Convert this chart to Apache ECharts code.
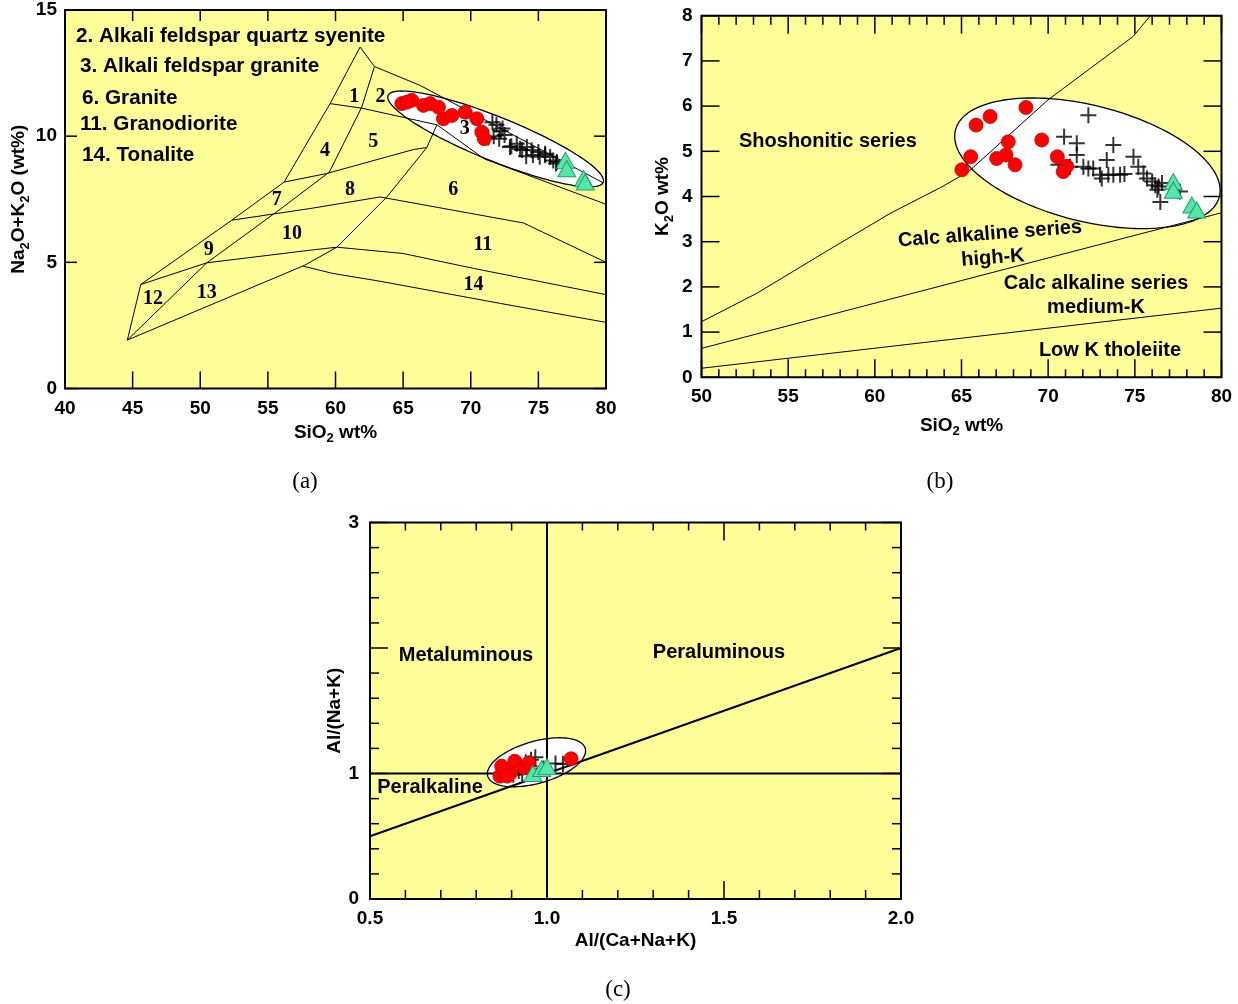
<!DOCTYPE html>
<html><head><meta charset="utf-8">
<script src="https://cdn.jsdelivr.net/npm/echarts@6/dist/echarts.min.js"></script>
<style>html,body{margin:0;padding:0;background:#fff}#c{width:1238px;height:1004px}</style>
</head><body><div id="c"></div><script>
// ---------- Panel (a): TAS plutonic ----------
const tasCircles = [[64.9,11.29],[65.64,11.42],[66.5,11.22],[67.0,11.29],[67.61,11.15],[67.98,10.69],[68.6,10.82],[69.59,10.95],[70.45,10.69],[70.82,10.16],[71.0,9.9],[65.3,11.35]];
const tasCrosses = [[71.6,10.55],[71.9,10.45],[72.35,10.3],[72.2,10.2],[71.7,10.0],[72.1,9.9],[71.3,9.95],[72.5,10.05],[72.9,9.57],[73.0,9.6],[73.4,9.7],[73.65,9.5],[73.8,9.45],[74.15,9.57],[74.5,9.44],[74.1,9.2],[74.6,9.25],[75.0,9.37],[75.1,9.18],[75.5,9.24],[75.5,9.3],[75.87,9.17],[76.1,9.04],[76.37,8.98],[76.3,8.92]];
const tasTriangles = [[77.0,9.04],[77.1,8.71],[78.34,8.32],[78.46,8.18]];
const tasEllipse = [63.89,11.61,79.79,8.17];
const tasLineOuter = [[44.61,1.92],[45.6,4.12],[52.33,6.67],[56.2,8.18],[59.6,11.29],[61.82,13.53],[62.88,12.76]];
const tasLineInner = [[62.88,12.76],[61.94,11.15],[59.55,8.58],[55.9,7.1],[50.48,4.98],[44.61,1.92]];
const tasLineTop = [[62.88,12.76],[66.26,12.01],[79.8,8.15]];
const tasLine15 = [[59.6,11.29],[61.94,11.11],[67.5,10.45],[71.0,9.1],[80,7.3]];
const tasLine47 = [[56.2,8.18],[59.35,8.52],[65.76,9.47],[66.75,9.55]];
const tasLine710 = [[52.33,6.67],[58.1,7.13],[63.3,7.59],[73.9,6.56],[80,5.0]];
const tasLine913 = [[45.6,4.12],[50.48,4.98],[58.1,5.48],[60.1,5.6],[65.0,5.35],[70.2,4.76],[80,3.72]];
const tasLine14 = [[57.6,4.85],[59.8,4.56],[63.3,4.25],[72.2,3.37],[80,2.62]];
const tasLineLower = [[44.61,1.92],[57.7,4.88],[60.1,5.6],[63.8,7.59],[66.75,9.55],[67.5,10.45]];
const tasFieldLabels = [['1',61.38,11.57],['2',63.33,11.56],['3',69.56,10.3],['4',59.23,9.42],['5',62.8,9.78],['6',68.7,7.86],['7',55.65,7.46],['8',61.08,7.86],['9',50.62,5.48],['10',56.79,6.14],['11',70.9,5.68],['12',46.5,3.57],['13',50.48,3.79],['14',70.2,4.1]];
const tasLegend = ['2. Alkali feldspar quartz syenite','3. Alkali feldspar granite','6. Granite','11. Granodiorite','14. Tonalite'];
const tasXTicks = [40,80,5];
const tasYTicks = [0,15,5];

// ---------- Panel (b): K2O vs SiO2 ----------
const kCircles = [[65.02,4.59],[65.53,4.88],[65.84,5.58],[66.65,5.77],[68.72,5.97],[67.7,5.21],[67.03,4.84],[67.57,4.92],[68.09,4.70],[69.63,5.25],[70.53,4.88],[71.07,4.67],[70.87,4.55]];
const kCrosses = [[72.32,5.80],[70.92,5.32],[71.65,5.18],[73.76,5.14],[71.65,4.92],[73.38,4.81],[74.92,4.88],[75.2,4.66],[70.59,4.70],[71.26,4.66],[72.03,4.66],[72.32,4.62],[72.6,4.62],[72.99,4.48],[73.09,4.40],[73.47,4.48],[73.76,4.48],[74.15,4.48],[74.4,4.5],[75.5,4.51],[75.7,4.40],[76.0,4.33],[76.18,4.25],[76.37,4.22],[76.57,4.30],[77.6,4.11],[76.47,3.88],[76.3,4.15]];
const kTriangles = [[77.22,4.33],[77.22,4.14],[78.29,3.81],[78.57,3.70]];
const kEllipse = [64.65,5.47,79.88,4.0];
const kShoshLine = [[50,1.23],[53.2,1.86],[57.0,2.74],[60.9,3.63],[63.8,4.2],[65.4,4.55],[70.0,6.14],[74.9,7.54],[75.9,8.0]];
const kHighMedLine = [[50,0.64],[80,3.64]];
const kMedLowLine = [[50,0.2],[80,1.53]];
const kXTicks = [50,80,5];
const kYTicks = [0,8,1];

// ---------- Panel (c): A/NK vs A/CNK ----------
const asiCircles = [[0.867,0.979],[0.872,1.059],[0.909,1.098],[0.898,1.005],[0.936,1.045],[0.949,1.085],[1.068,1.117],[0.888,0.979]];
const asiCrosses = [[0.967,1.13],[1.024,1.08],[1.045,1.075],[0.955,1.11],[0.94,1.09],[0.92,1.02],[0.905,0.99],[0.93,1.0],[0.95,1.06],[0.99,1.04]];
const asiTriangles = [[0.96,1.0],[0.985,1.04],[1.0,1.055]];
const asiEllipse = [0.8326,0.979,1.108,1.20];
const asiVertical = [[1,0],[1,3]];
const asiHorizontal = [[0.5,1],[2,1]];
const asiDiagonal = [[0.5,0.5],[2,2]];
const asiXTicks = [0.5,2.0,0.5];
const asiYTicks = [0,3,1];

// ---------- styles ----------
const SANS = '"Liberation Sans", Arial, Helvetica, sans-serif';
const SERIF = '"Liberation Serif", "Times New Roman", serif';
const YELLOW = '#ffff99';
function nameStyle() {
  return {
    fontFamily: SANS, fontWeight: 'bold', fontSize: 19, color: '#000',
    rich: {
      t: {fontFamily: SANS, fontWeight: 'bold', fontSize: 19, lineHeight: 20, color: '#000'},
      s: {fontFamily: SANS, fontWeight: 'bold', fontSize: 13, lineHeight: 13, padding: [13, 0, 0, 0], color: '#000'}
    }
  };
}

function labelAxis(gi, t, pos, o) {
  const ax = {gridIndex: gi, type: 'value', min: t[0], max: t[1], interval: t[2], position: pos,
    splitLine: {show: false}, axisLine: {show: false, onZero: false}, axisTick: {show: false},
    axisLabel: {show: true, margin: o.margin, fontFamily: SANS, fontWeight: 'bold', fontSize: 19, color: '#000'},
    name: o.name, nameLocation: 'middle', nameGap: o.gap, nameTextStyle: nameStyle()};
  if (o.fmt) ax.axisLabel.formatter = o.fmt;
  if (pos === 'left') ax.nameRotate = 90;
  return ax;
}

// inward tick marks on all four sides, placed through the axes' own scales (own canvas layer on top)
function tickSeries(ai, xt, yt, s) {
  return {type: 'custom', xAxisIndex: ai, yAxisIndex: ai, zlevel: 1, z: 100, silent: true, clip: false,
    data: [[xt[0], yt[0]]],
    renderItem: function (params, api) {
      const lo = api.coord([xt[0], yt[0]]), hi = api.coord([xt[1], yt[1]]);
      const left = lo[0], bottom = lo[1], right = hi[0], top = hi[1];
      const kids = [];
      const seg = (a, b, c, d) => kids.push({type: 'line', z2: 100, shape: {x1: a, y1: b, x2: c, y2: d},
        style: {stroke: '#000', lineWidth: 1.5}});
      const nx = Math.round((xt[1] - xt[0]) / xt[2]);
      for (let k = 0; k <= nx; k++) {
        const v = xt[0] + k * xt[2];
        const p = api.coord([v, yt[0]])[0];
        seg(p, bottom, p, bottom - s.xb);
        seg(p, top, p, top + s.xt);
        if (s.xs && k < nx) {
          for (let j = 1; j < s.xs; j++) {
            const q = api.coord([v + j * xt[2] / s.xs, yt[0]])[0];
            seg(q, bottom, q, bottom - s.xbm);
            seg(q, top, q, top + s.xtm);
          }
        }
      }
      const ny = Math.round((yt[1] - yt[0]) / yt[2]);
      for (let k = 0; k <= ny; k++) {
        const v = yt[0] + k * yt[2];
        const p = api.coord([xt[0], v])[1];
        seg(left, p, left + s.yl, p);
        seg(right, p, right - s.yr, p);
        if (s.ys && k < ny) {
          for (let j = 1; j < s.ys; j++) {
            const q = api.coord([xt[0], v + j * yt[2] / s.ys])[1];
            seg(left, q, left + s.ylm, q);
            seg(right, q, right - s.yrm, q);
          }
        }
      }
      return {type: 'group', children: kids};
    }};
}

function ellipseSeries(ai, ends, bPx) {
  return {type: 'custom', xAxisIndex: ai, yAxisIndex: ai, z: 1, silent: true,
    data: [ends],
    renderItem: function (params, api) {
      const p1 = api.coord([api.value(0), api.value(1)]);
      const p2 = api.coord([api.value(2), api.value(3)]);
      const cx = (p1[0] + p2[0]) / 2, cy = (p1[1] + p2[1]) / 2;
      const dx = p2[0] - p1[0], dy = p2[1] - p1[1];
      const a = Math.hypot(dx, dy) / 2, ux = dx / (2 * a), uy = dy / (2 * a);
      const pts = [];
      for (let i = 0; i < 144; i++) {
        const th = i / 144 * 2 * Math.PI, c = Math.cos(th) * a, s = Math.sin(th) * bPx;
        pts.push([cx + c * ux - s * uy, cy + c * uy + s * ux]);
      }
      return {type: 'polygon', shape: {points: pts}, style: {fill: '#fff', stroke: '#000', lineWidth: 1.3}};
    }};
}
function lineSeries(ai, pts, w) {
  return {type: 'line', xAxisIndex: ai, yAxisIndex: ai, z: 2, silent: true, symbol: 'none',
    data: pts, lineStyle: {color: '#000', width: w}, animation: false};
}
const CROSS = 'path://M10,0 L10,20 M0,10 L20,10';
function pointSeries(ai, crosses, circles, triangles) {
  return [
    {type: 'scatter', xAxisIndex: ai, yAxisIndex: ai, z: 3, symbol: CROSS, symbolSize: 16, data: crosses,
      itemStyle: {color: 'rgba(0,0,0,0)', borderColor: '#000', borderWidth: 2}},
    {type: 'scatter', xAxisIndex: ai, yAxisIndex: ai, z: 4, symbol: 'circle', symbolSize: 14, data: circles,
      itemStyle: {color: '#ff0000', borderColor: '#c00000', borderWidth: 0.8, opacity: 1}},
    {type: 'scatter', xAxisIndex: ai, yAxisIndex: ai, z: 5, symbol: 'triangle', symbolSize: [18, 16], data: triangles,
      itemStyle: {color: '#55e6a8', borderColor: '#1f9e6a', borderWidth: 1, opacity: 1}}
  ];
}

const series = [];
series.push(ellipseSeries(0, tasEllipse, 22));
[tasLineOuter, tasLineInner, tasLineTop, tasLine15, tasLine47, tasLine710, tasLine913, tasLine14, tasLineLower]
  .forEach(l => series.push(lineSeries(0, l, 1)));
series.push({type: 'scatter', xAxisIndex: 0, yAxisIndex: 0, z: 2, silent: true, symbolSize: 1,
  itemStyle: {color: 'rgba(0,0,0,0)'},
  data: tasFieldLabels.map(d => ({name: d[0], value: [d[1], d[2]]})),
  label: {show: true, position: 'inside', formatter: p => p.name, fontFamily: SERIF, fontWeight: 'bold', fontSize: 20,
    color: '#000', textBorderWidth: 0, textBorderColor: 'transparent', opacity: 1}});
series.push(...pointSeries(0, tasCrosses, tasCircles, tasTriangles));
series.push(tickSeries(0, tasXTicks, tasYTicks, {xb: 17, xt: 11, yl: 12, yr: 12}));

series.push(ellipseSeries(1, kEllipse, 58));
[kShoshLine, kHighMedLine, kMedLowLine].forEach(l => series.push(lineSeries(1, l, 1)));
series.push(...pointSeries(1, kCrosses, kCircles, kTriangles));
series.push(tickSeries(1, kXTicks, kYTicks, {xb: 18, xt: 18, xs: 5, xbm: 8, xtm: 9, yl: 18, yr: 18}));

series.push(ellipseSeries(2, asiEllipse, 21));
[asiVertical, asiHorizontal, asiDiagonal].forEach(l => series.push(lineSeries(2, l, 2)));
series.push(...pointSeries(2, asiCrosses, asiCircles, asiTriangles));
series.push(tickSeries(2, asiXTicks, asiYTicks, {xb: 18, xt: 18, xs: 5, xbm: 9, xtm: 8, yl: 18, yr: 18, ys: 5, ylm: 9, yrm: 9}));

function txt(x, y, s, o) {
  return Object.assign({type: 'text', x: x, y: y, z: 50, silent: true,
    style: Object.assign({text: s, fontFamily: SANS, fontWeight: 'bold', fontSize: 20, fill: '#000',
      textAlign: 'center', textVerticalAlign: 'middle'}, o && o.style || {})}, o && o.el || {});
}
const legendPos = [[76,36],[80,66],[82,98],[80,124],[82,155]];
const graphics = tasLegend.map((s, i) => txt(legendPos[i][0], legendPos[i][1], s, {style: {textAlign: 'left', fontSize: 20.7}}));
graphics.push(txt(739, 141, 'Shoshonitic series', {style: {textAlign: 'left'}}));
graphics.push(txt(990, 234, 'Calc alkaline series', {el: {rotation: 0.075}}));
graphics.push(txt(993, 258, 'high-K', {el: {rotation: 0.075}}));
graphics.push(txt(1096, 283, 'Calc alkaline series'));
graphics.push(txt(1096, 307, 'medium-K'));
graphics.push(txt(1110, 350, 'Low K tholeiite'));
graphics.push(txt(466, 655, 'Metaluminous'));
graphics.push(txt(719, 652, 'Peraluminous'));
graphics.push(txt(430, 787, 'Peralkaline'));
const capStyle = {style: {fontFamily: SERIF, fontWeight: 'normal', fontSize: 23}};
graphics.push(txt(305, 482, '(a)', capStyle));
graphics.push(txt(940, 482, '(b)', capStyle));
graphics.push(txt(618, 990, '(c)', capStyle));

const SIO2 = '{t|SiO}{s|2}{t| wt%}';
const option = {
  animation: false,
  backgroundColor: '#fff',
  grid: [
    {left: 65, top: 10, width: 541, height: 378.5, show: true, backgroundColor: YELLOW, borderColor: '#000', borderWidth: 2},
    {left: 701.5, top: 15.7, width: 520, height: 361.6, show: true, backgroundColor: YELLOW, borderColor: '#000', borderWidth: 2},
    {left: 370, top: 522.5, width: 531, height: 376.5, show: true, backgroundColor: YELLOW, borderColor: '#000', borderWidth: 2}
  ],
  xAxis: [
    labelAxis(0, tasXTicks, 'bottom', {margin: 11, name: SIO2, gap: 30}),
    labelAxis(1, kXTicks, 'bottom', {margin: 10, name: SIO2, gap: 38}),
    labelAxis(2, asiXTicks, 'bottom', {margin: 10, name: 'Al/(Ca+Na+K)', gap: 32, fmt: v => v.toFixed(1)})
  ],
  yAxis: [
    labelAxis(0, tasYTicks, 'left', {margin: 8, name: '{t|Na}{s|2}{t|O+K}{s|2}{t|O (wt%)}', gap: 33}),
    labelAxis(1, kYTicks, 'left', {margin: 9, name: '{t|K}{s|2}{t|O wt%}', gap: 29}),
    labelAxis(2, asiYTicks, 'left', {margin: 11, name: 'Al/(Na+K)', gap: 22, fmt: v => (v === 2 ? '' : String(v))})
  ],
  graphic: graphics,
  series: series
};
const chart = echarts.init(document.getElementById('c'), null, {renderer: 'canvas'});
chart.setOption(option);
</script></body></html>
